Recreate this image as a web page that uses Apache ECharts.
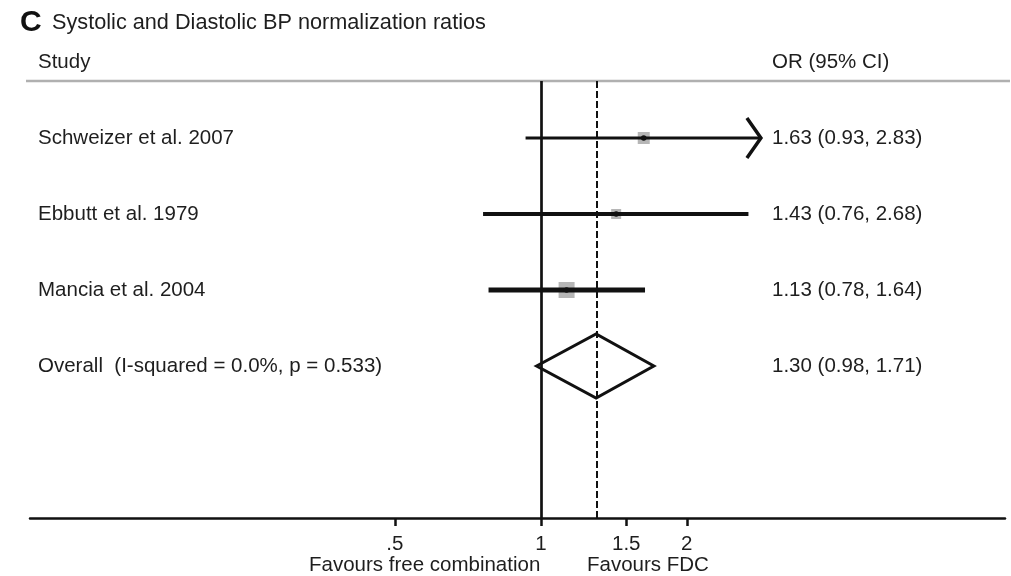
<!DOCTYPE html>
<html>
<head>
<meta charset="utf-8">
<script src="https://cdn.jsdelivr.net/npm/echarts@6/dist/echarts.min.js"></script>
<style>
  html, body { margin: 0; padding: 0; background: #fff; }
  #chart { width: 1011px; height: 576px; }
</style>
</head>
<body>
<div id="chart"></div>
<script>
// Study rows
const studies = ['Schweizer et al. 2007', 'Ebbutt et al. 1979', 'Mancia et al. 2004'];
const oddsRatios = [1.63, 1.43, 1.13];
const ciLower = [0.93, 0.76, 0.78];
const ciUpper = [2.83, 2.68, 1.64];

// Pooled estimate: OR, lower, upper
const overallLabel = 'Overall  (I-squared = 0.0%, p = 0.533)';
const overallValues = [1.30, 0.98, 1.71];

// x axis ticks
const tickValues = [0.5, 1, 1.5, 2];
const tickLabels = ['.5', '1', '1.5', '2'];

// per-row drawing style
const boxSizes = [12, 10, 16];
const lineWidths = [3, 4, 5];
const hasArrow = [true, false, false];

const FONT = '"Liberation Sans", Arial, sans-serif';
const FS = 20.5;
const TXT = '#1e1e1e';
const log2 = Math.log2;

const chart = echarts.init(document.getElementById('chart'));

// rows sit on a hidden y value axis (0.75, 1.75, ...), x is log2(OR)
const rowData = studies.map((s, i) => [0.75 + i, log2(oddsRatios[i]), log2(ciLower[i]), log2(ciUpper[i]), i]);
rowData.push([0.75 + studies.length, log2(overallValues[0]), log2(overallValues[1]), log2(overallValues[2]), -1]);

function fmt(v) { return v.toFixed(2); }

function renderRow(params, api) {
  const k = api.value(4);
  const yv = api.value(0);
  const pt = api.coord([api.value(1), yv]);
  const lo = api.coord([api.value(2), yv]);
  const hi = api.coord([api.value(3), yv]);
  const y = pt[1];
  const children = [];
  let label, right;

  if (k >= 0) {
    const b = boxSizes[k];
    children.push({
      type: 'rect',
      shape: { x: pt[0] - b / 2, y: y - b / 2, width: b, height: b },
      style: { fill: '#b6b6b6' }
    });
    children.push({
      type: 'line',
      shape: { x1: lo[0], y1: y, x2: hi[0], y2: y },
      style: { stroke: '#111', lineWidth: lineWidths[k] }
    });
    children.push({
      type: 'circle',
      shape: { cx: pt[0], cy: y, r: 2.8 },
      style: { fill: '#111' }
    });
    if (hasArrow[k]) {
      children.push({
        type: 'polyline',
        shape: { points: [[hi[0] - 13, y - 20], [hi[0] + 1, y], [hi[0] - 13, y + 20]] },
        style: { stroke: '#111', lineWidth: 3.5, fill: 'none' }
      });
    }
    label = studies[k];
    right = fmt(oddsRatios[k]) + ' (' + fmt(ciLower[k]) + ', ' + fmt(ciUpper[k]) + ')';
  } else {
    children.push({
      type: 'polygon',
      shape: { points: [[lo[0], y], [pt[0], y - 32], [hi[0], y], [pt[0], y + 32]] },
      style: { stroke: '#111', lineWidth: 3, fill: 'none' }
    });
    label = overallLabel;
    right = fmt(overallValues[0]) + ' (' + fmt(overallValues[1]) + ', ' + fmt(overallValues[2]) + ')';
  }

  children.push({
    type: 'text',
    style: { x: 38, y: y, text: label, fill: TXT, font: FS + 'px ' + FONT, verticalAlign: 'middle' }
  });
  children.push({
    type: 'text',
    style: { x: 772, y: y, text: right, fill: TXT, font: FS + 'px ' + FONT, verticalAlign: 'middle' }
  });
  return { type: 'group', children: children };
}

const option = {
  animation: false,
  backgroundColor: '#fff',
  grid: { left: 30, right: 6, top: 81, bottom: 58 },
  xAxis: {
    type: 'value',
    position: 'bottom',
    min: -3.5,
    max: 3.18,
    splitLine: { show: false },
    axisLine: { onZero: false, lineStyle: { color: '#111', width: 2.5 } },
    axisTick: {
      customValues: tickValues.map(log2),
      length: 8,
      lineStyle: { color: '#111', width: 2.5 }
    },
    axisLabel: {
      customValues: tickValues.map(log2),
      margin: 16,
      color: TXT,
      fontFamily: FONT,
      fontSize: FS,
      formatter: function (v) {
        let best = 0;
        tickValues.forEach((t, i) => {
          if (Math.abs(log2(t) - v) < Math.abs(log2(tickValues[best]) - v)) best = i;
        });
        return tickLabels[best];
      }
    }
  },
  yAxis: {
    type: 'value',
    inverse: true,
    min: 0,
    max: 5.75,
    show: false
  },
  series: [{
    type: 'custom',
    renderItem: renderRow,
    data: rowData,
    clip: false,
    markLine: {
      silent: true,
      symbol: 'none',
      label: { show: false },
      data: [
        { xAxis: 0, lineStyle: { color: '#111', width: 2.7, type: 'solid' } },
        { xAxis: log2(overallValues[0]), lineStyle: { color: '#111', width: 2, type: [7, 3] } }
      ]
    }
  }],
  graphic: [
    { type: 'text', x: 20, y: 23, style: { text: 'C', font: 'bold 30px ' + FONT, fill: '#111', verticalAlign: 'middle' } },
    { type: 'text', x: 52, y: 23, style: { text: 'Systolic and Diastolic BP normalization ratios', font: '21.7px ' + FONT, fill: TXT, verticalAlign: 'middle' } },
    { type: 'text', x: 38, y: 62, style: { text: 'Study', font: FS + 'px ' + FONT, fill: TXT, verticalAlign: 'middle' } },
    { type: 'text', x: 772, y: 62, style: { text: 'OR (95% CI)', font: FS + 'px ' + FONT, fill: TXT, verticalAlign: 'middle' } },
    { type: 'line', shape: { x1: 26, y1: 81, x2: 1010, y2: 81 }, style: { stroke: '#b0b0b0', lineWidth: 2.5 } },
    { type: 'text', x: 309, y: 565, style: { text: 'Favours free combination', font: FS + 'px ' + FONT, fill: TXT, verticalAlign: 'middle' } },
    { type: 'text', x: 587, y: 565, style: { text: 'Favours FDC', font: FS + 'px ' + FONT, fill: TXT, verticalAlign: 'middle' } }
  ]
};

chart.setOption(option);
</script>
</body>
</html>
